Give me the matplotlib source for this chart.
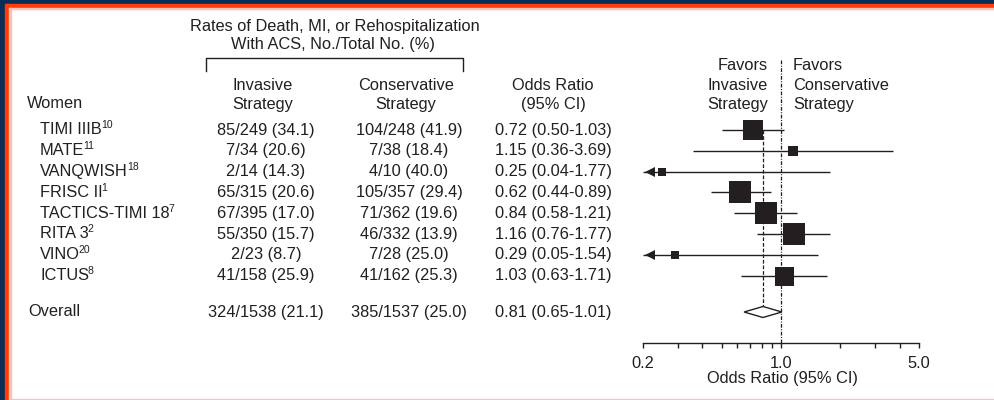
import matplotlib
matplotlib.use("Agg")
import matplotlib.pyplot as plt
from matplotlib.patches import Rectangle
from matplotlib.ticker import FixedLocator, NullFormatter

plt.rcParams['font.family'] = ['Liberation Sans', 'DejaVu Sans']

# trials (women only)
studies = ["TIMI IIIB", "MATE", "VANQWISH", "FRISC II", "TACTICS-TIMI 18",
           "RITA 3", "VINO", "ICTUS"]
refs = ["10", "11", "18", "1", "7", "2", "20", "8"]

inv_events = [85, 7, 2, 65, 67, 55, 2, 41]
inv_total = [249, 34, 14, 315, 395, 350, 23, 158]
inv_pct = [34.1, 20.6, 14.3, 20.6, 17.0, 15.7, 8.7, 25.9]

cons_events = [104, 7, 4, 105, 71, 46, 7, 41]
cons_total = [248, 38, 10, 357, 362, 332, 28, 162]
cons_pct = [41.9, 18.4, 40.0, 29.4, 19.6, 13.9, 25.0, 25.3]

odds = [0.72, 1.15, 0.25, 0.62, 0.84, 1.16, 0.29, 1.03]
ci_lo = [0.50, 0.36, 0.04, 0.44, 0.58, 0.76, 0.05, 0.63]
ci_hi = [1.03, 3.69, 1.77, 0.89, 1.21, 1.77, 1.54, 1.71]
weight = [20, 10, 8, 23, 23, 22, 8, 19]

overall_inv = (324, 1538, 21.1)
overall_cons = (385, 1537, 25.0)
overall_or = (0.81, 0.65, 1.01)

W, H = 994, 400
INK = '#231f20'
FS = 11.8

fig = plt.figure(figsize=(W / 100, H / 100), dpi=100)
fig.patch.set_facecolor('white')

# full-figure axes in pixel units for the table text
bg = fig.add_axes([0, 0, 1, 1])
bg.set_xlim(0, W)
bg.set_ylim(H, 0)
bg.axis('off')

def txt(x, y, s, ha='center', **kw):
    return bg.text(x, y, s, ha=ha, va='center', fontsize=FS, color=INK, **kw)

row_y = [130 + i * 20.8 for i in range(len(studies))]
y_overall = 312

# headers
txt(335, 26, "Rates of Death, MI, or Rehospitalization")
txt(333, 45, "With ACS, No./Total No. (%)")
bg.plot([206, 206, 463, 463], [71, 58, 58, 71], color=INK, lw=1.0)
txt(263, 85, "Invasive")
txt(263, 104, "Strategy")
txt(406, 85, "Conservative")
txt(406, 104, "Strategy")
txt(553, 85, "Odds Ratio")
txt(553, 104, "(95% CI)")
txt(27, 103, "Women", ha='left')
for y, s in zip([65, 85, 104], ["Favors", "Invasive", "Strategy"]):
    txt(768, y, s, ha='right')
for y, s in zip([65, 85, 104], ["Favors", "Conservative", "Strategy"]):
    txt(793, y, s, ha='left')

# table rows; reference numbers go as small raised text after the name
renderer = fig.canvas.get_renderer()
for i, name in enumerate(studies):
    y = row_y[i]
    t = txt(40, y, name, ha='left')
    x_end = bg.transData.inverted().transform(
        t.get_window_extent(renderer).get_points())[1, 0]
    bg.text(x_end - 1.0, y - 4.5, refs[i], ha='left', va='center',
            fontsize=7.5, color=INK)
    txt(266, y, f"{inv_events[i]}/{inv_total[i]} ({inv_pct[i]:.1f})")
    txt(409, y, f"{cons_events[i]}/{cons_total[i]} ({cons_pct[i]:.1f})")
    txt(553, y, f"{odds[i]:.2f} ({ci_lo[i]:.2f}-{ci_hi[i]:.2f})")

txt(28, y_overall, "Overall", ha='left')
txt(266, y_overall, "%d/%d (%.1f)" % overall_inv)
txt(409, y_overall, "%d/%d (%.1f)" % overall_cons)
txt(553, y_overall, "%.2f (%.2f-%.2f)" % overall_or)

# forest plot axes: log x, y in pixels
x0, x1 = 643, 919
ax = fig.add_axes([x0 / W, 0, (x1 - x0) / W, 1])
ax.patch.set_visible(False)
ax.set_xscale('log')
ax.set_xlim(0.2, 5.0)
ax.set_ylim(H, 0)
for s in ['top', 'left', 'right']:
    ax.spines[s].set_visible(False)
ax.spines['bottom'].set_position(('data', 343))
ax.spines['bottom'].set_color(INK)
ax.spines['bottom'].set_linewidth(1.0)
ax.set_yticks([])
ax.xaxis.set_major_locator(FixedLocator([0.2, 1.0, 5.0]))
ax.xaxis.set_minor_locator(FixedLocator([0.3, 0.4, 0.5, 0.6, 0.7, 0.8, 0.9, 2, 3, 4]))
ax.xaxis.set_minor_formatter(NullFormatter())
ax.set_xticklabels(["0.2", "1.0", "5.0"])
ax.tick_params(axis='x', which='both', direction='out', length=3.5, width=1.0,
               color=INK, labelsize=FS, labelcolor=INK, pad=6)

# reference lines
ax.plot([1.0, 1.0], [60, 343], color=INK, lw=0.9, dashes=(3, 1.2, 0.8, 1.2))
ax.plot([overall_or[0]] * 2, [row_y[0], y_overall], color=INK, lw=0.9, dashes=(3, 1.5))

# study estimates
for i in range(len(studies)):
    y = row_y[i]
    lo = max(ci_lo[i], 0.2)
    ax.plot([lo, ci_hi[i]], [y, y], color=INK, lw=1.0, solid_capstyle='butt')
    if ci_lo[i] < 0.2:
        ax.plot([0.216], [y], marker='<', ms=7.5, color=INK, mew=0, clip_on=False)
    side = weight[i] * 0.72
    ax.plot([odds[i]], [y], marker='s', ms=side, color=INK, mew=0, zorder=3)

# pooled estimate
o, lo, hi = overall_or
ax.fill([lo, o, hi, o], [y_overall, y_overall - 5.5, y_overall, y_overall + 5.5],
        facecolor='white', edgecolor=INK, lw=1.0, zorder=3)

bg.text(782, 379, "Odds Ratio (95% CI)", ha='center', va='center', fontsize=FS,
        color=INK, zorder=5)

# page frame
navy = '#0b2c55'
red = '#ff3b0a'
pink = '#fbc4b6'
for r in [Rectangle((0, 0), W, 4, color=navy),
          Rectangle((0, 4), W, 4, color=red),
          Rectangle((0, 0), 5, H, color=navy),
          Rectangle((5, 4), 4, H, color=red),
          Rectangle((9, 8), 1.5, H, color=pink),
          Rectangle((9, 8), W, 1, color=pink),
          Rectangle((9, 398.5), W, 1.5, color=pink)]:
    r.set_zorder(10)
    r.set_clip_on(False)
    bg.add_patch(r)

fig.savefig("out.png", dpi=100)
